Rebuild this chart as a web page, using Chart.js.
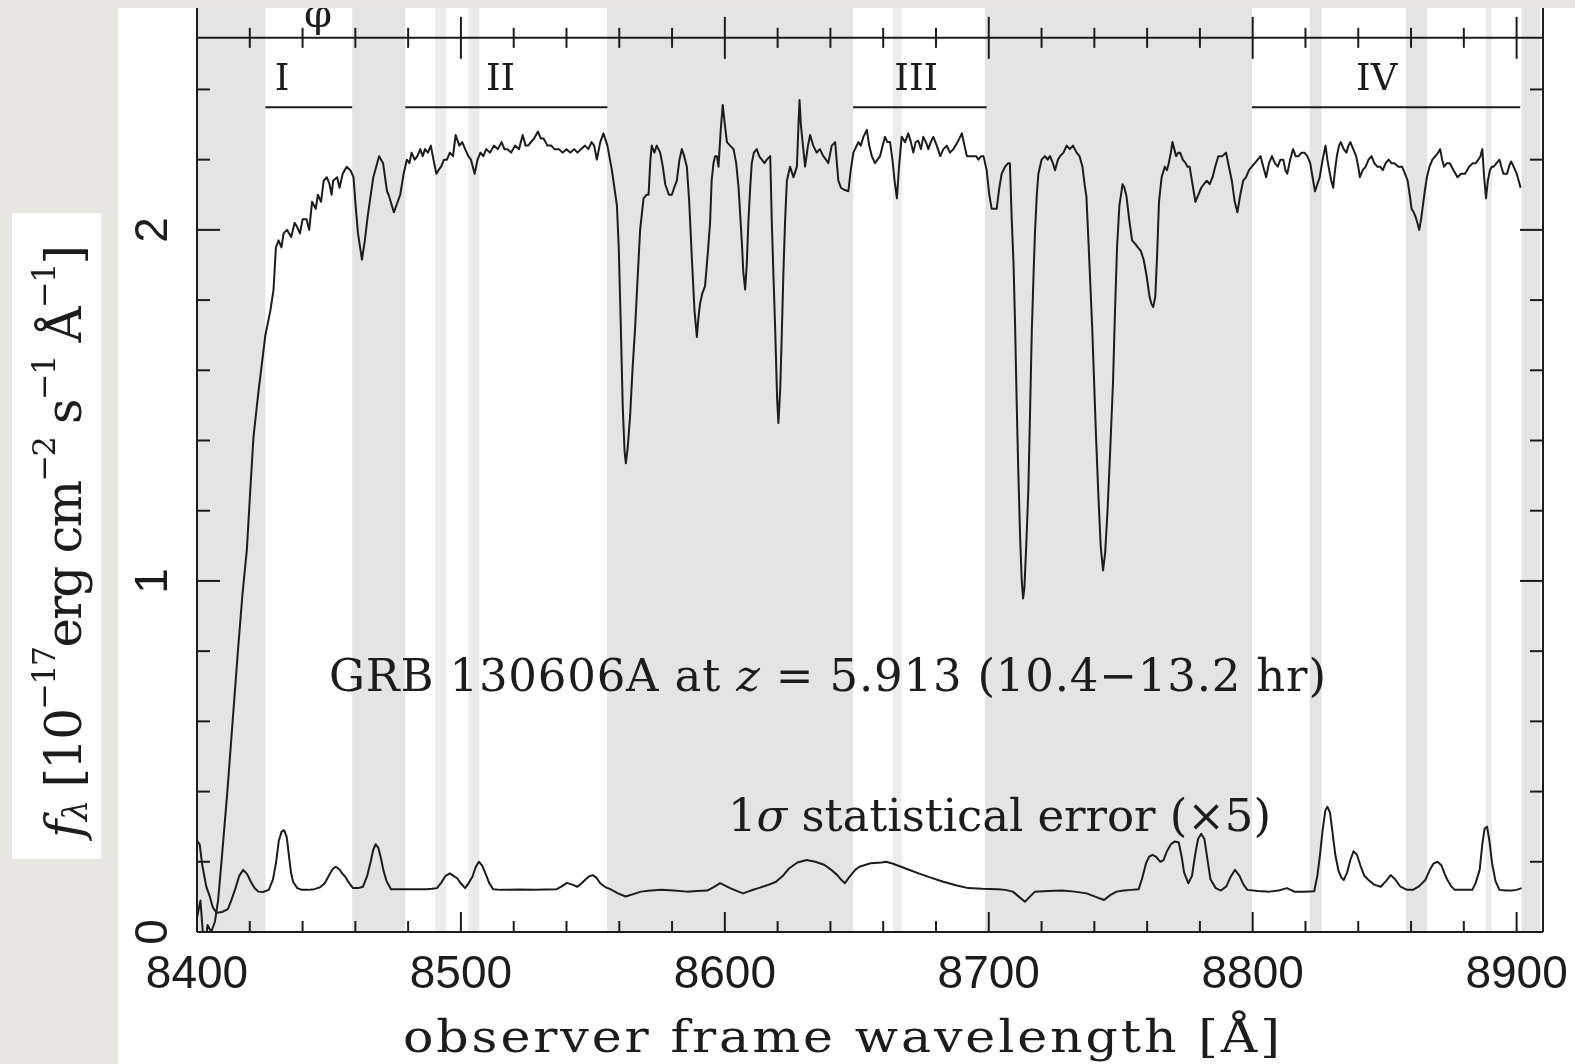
<!DOCTYPE html>
<html>
<head>
<meta charset="utf-8">
<script src="https://cdn.jsdelivr.net/npm/chart.js@4.4.1/dist/chart.umd.min.js"></script>
<style>
  html, body { margin: 0; padding: 0; background: #e9e7e2; }
  canvas { display: block; }
</style>
</head>
<body>
<canvas id="spec" width="1575" height="1064"></canvas>
<script>
/* GRB 130606A afterglow spectrum, observer frame, 8400-8910 A */

// flux, 1e-17 erg/cm2/s/A
const fluxWl = [
  8400.0, 8401.3, 8402.2, 8403.0, 8404.0, 8405.4, 8406.8, 8408.0, 8409.5, 8411.5,
  8413.5, 8415.5, 8417.2, 8418.9, 8420.2, 8421.4, 8423.3, 8425.9, 8427.8, 8429.0,
  8429.9, 8430.9, 8432.0, 8432.8, 8434.1, 8435.7, 8437.0, 8437.8, 8439.0, 8440.0,
  8441.5, 8442.5, 8443.6, 8445.0, 8445.8, 8447.0, 8448.0, 8449.2, 8450.2, 8451.0,
  8451.6, 8453.1, 8454.0, 8455.2, 8456.7, 8458.1, 8459.3, 8460.2, 8461.0, 8462.5,
  8463.6, 8464.7, 8466.8, 8469.0, 8470.5, 8472.0, 8472.6, 8474.6, 8477.0, 8478.3,
  8479.5, 8480.5, 8481.3, 8482.5, 8483.5, 8484.6, 8485.5, 8486.4, 8487.5, 8488.6,
  8489.6, 8490.7, 8491.5, 8492.5, 8493.6, 8494.7, 8495.8, 8497.0, 8498.0, 8499.4,
  8500.5, 8501.6, 8502.8, 8503.8, 8505.2, 8506.3, 8507.4, 8508.5, 8509.6, 8511.0,
  8512.5, 8514.0, 8515.4, 8516.5, 8517.6, 8519.0, 8520.5, 8522.0, 8523.4, 8524.5,
  8525.5, 8526.5, 8527.7, 8529.2, 8530.3, 8531.3, 8532.8, 8534.2, 8535.5, 8537.1,
  8538.5, 8540.0, 8541.5, 8542.9, 8544.2, 8545.5, 8547.0, 8548.3, 8549.5, 8550.5,
  8551.5, 8552.8, 8554.0, 8555.5, 8557.2, 8559.1, 8559.8, 8560.6, 8561.3, 8562.0,
  8562.5, 8563.2, 8564.1, 8565.0, 8566.0, 8567.0, 8567.9, 8569.2, 8570.3, 8571.1,
  8571.8, 8572.3, 8573.3, 8574.2, 8575.5, 8576.5, 8577.4, 8578.8, 8579.9, 8580.8,
  8581.8, 8582.8, 8583.7, 8584.6, 8585.6, 8586.5, 8587.5, 8588.5, 8589.4, 8590.0,
  8590.6, 8591.5, 8592.5, 8593.5, 8594.4, 8595.0, 8595.7, 8596.3, 8597.0, 8597.6,
  8598.4, 8599.2, 8600.0, 8600.8, 8602.0, 8603.3, 8604.3, 8605.2, 8606.4, 8607.0,
  8607.7, 8608.3, 8608.9, 8609.6, 8610.2, 8611.0, 8612.1, 8613.0, 8614.0, 8615.0,
  8615.9, 8617.2, 8617.8, 8618.5, 8619.1, 8619.8, 8620.3, 8621.0, 8621.6, 8622.2,
  8622.8, 8623.5, 8624.7, 8626.0, 8627.3, 8627.9, 8628.3, 8628.8, 8629.2, 8630.4,
  8631.5, 8632.3, 8633.5, 8634.8, 8636.0, 8637.3, 8638.3, 8639.2, 8640.5, 8641.8,
  8643.0, 8644.0, 8645.0, 8646.8, 8647.7, 8648.7, 8650.6, 8651.5, 8652.5, 8653.8,
  8654.7, 8655.7, 8656.9, 8658.8, 8659.8, 8660.7, 8661.6, 8662.6, 8663.5, 8664.3,
  8665.2, 8666.0, 8667.0, 8668.3, 8669.5, 8670.5, 8671.4, 8672.3, 8673.3, 8674.3,
  8675.2, 8676.2, 8677.1, 8678.0, 8679.0, 8680.3, 8681.6, 8682.8, 8684.1, 8685.3,
  8686.6, 8688.2, 8689.8, 8690.8, 8691.7, 8693.0, 8694.2, 8695.2, 8696.1, 8697.1,
  8698.0, 8699.2, 8700.2, 8701.1, 8702.0, 8703.0, 8704.0, 8704.9, 8706.2, 8707.4,
  8708.0, 8708.7, 8709.4, 8710.0, 8710.6, 8711.2, 8711.9, 8712.5, 8713.0, 8713.5,
  8714.2, 8715.0, 8715.7, 8716.3, 8717.0, 8717.5, 8718.2, 8718.8, 8720.0, 8721.3,
  8722.3, 8723.2, 8724.3, 8725.1, 8726.2, 8727.0, 8728.3, 8729.5, 8730.7, 8731.9,
  8733.3, 8734.4, 8735.5, 8736.3, 8737.0, 8737.7, 8738.4, 8739.2, 8739.9, 8740.7,
  8741.5, 8742.4, 8743.3, 8744.1, 8745.0, 8746.0, 8747.1, 8747.8, 8748.6, 8749.5,
  8750.7, 8751.4, 8752.2, 8753.2, 8754.3, 8755.5, 8756.5, 8757.6, 8758.7, 8759.8,
  8760.9, 8761.6, 8762.3, 8763.1, 8763.8, 8764.5, 8765.5, 8766.7, 8767.5, 8768.2,
  8769.0, 8769.6, 8770.3, 8771.0, 8771.8, 8772.5, 8773.5, 8774.6, 8775.3, 8776.1,
  8777.2, 8778.3, 8779.4, 8780.5, 8781.5, 8782.6, 8783.7, 8784.8, 8785.8, 8787.0,
  8788.5, 8789.9, 8791.0, 8792.1, 8793.2, 8794.2, 8795.3, 8796.4, 8797.5, 8798.6,
  8799.7, 8800.8, 8801.9, 8803.0, 8804.0, 8805.1, 8806.2, 8807.3, 8808.4, 8809.5,
  8810.5, 8811.6, 8812.4, 8813.1, 8814.2, 8815.3, 8816.3, 8817.4, 8818.5, 8819.6,
  8820.7, 8821.8, 8822.7, 8823.6, 8824.5, 8825.4, 8826.5, 8827.6, 8828.3, 8829.0,
  8829.8, 8830.5, 8831.2, 8831.9, 8832.7, 8833.4, 8834.5, 8835.5, 8836.3, 8837.0,
  8838.1, 8839.2, 8840.0, 8840.6, 8841.7, 8842.8, 8843.9, 8845.0, 8846.1, 8847.2,
  8848.3, 8849.3, 8850.4, 8851.5, 8852.6, 8853.7, 8855.2, 8856.6, 8857.7, 8858.7,
  8859.5, 8860.2, 8861.0, 8861.6, 8862.4, 8863.1, 8863.8, 8864.5, 8865.2, 8866.0,
  8867.0, 8868.1, 8869.2, 8870.3, 8871.0, 8871.8, 8872.5, 8873.6, 8874.7, 8876.1,
  8877.6, 8879.0, 8880.5, 8882.0, 8883.4, 8884.5, 8885.5, 8886.3, 8887.0, 8887.7,
  8888.4, 8889.1, 8889.9, 8890.6, 8891.3, 8892.4, 8893.5, 8894.2, 8895.0, 8895.7,
  8896.4, 8897.1, 8897.9, 8898.9, 8900.0, 8900.8, 8901.5
];
const fluxVal = [
  0.04, 0.09, 0.00, -0.04, 0.02, 0.00, 0.03, 0.09, 0.22, 0.40,
  0.60, 0.80, 0.96, 1.09, 1.26, 1.41, 1.54, 1.70, 1.77, 1.83,
  1.95, 1.97, 1.95, 1.99, 2.00, 1.98, 2.02, 2.01, 1.99, 2.03,
  2.03, 2.00, 2.08, 2.06, 2.10, 2.08, 2.14, 2.15, 2.13, 2.10,
  2.14, 2.15, 2.12, 2.16, 2.18, 2.17, 2.15, 2.06, 1.99, 1.915,
  1.97, 2.04, 2.15, 2.21, 2.19, 2.11, 2.10, 2.05, 2.10, 2.16,
  2.20, 2.19, 2.22, 2.20, 2.21, 2.23, 2.21, 2.23, 2.22, 2.24,
  2.20, 2.16, 2.17, 2.18, 2.20, 2.20, 2.22, 2.21, 2.27, 2.24,
  2.25, 2.23, 2.21, 2.20, 2.16, 2.20, 2.22, 2.21, 2.23, 2.22,
  2.24, 2.23, 2.25, 2.23, 2.23, 2.22, 2.24, 2.23, 2.27, 2.24,
  2.24, 2.25, 2.26, 2.28, 2.26, 2.26, 2.24, 2.24, 2.23, 2.23,
  2.22, 2.23, 2.22, 2.23, 2.22, 2.23, 2.24, 2.23, 2.25, 2.24,
  2.20, 2.25, 2.275, 2.24, 2.17, 2.07, 1.95, 1.72, 1.50, 1.37,
  1.335, 1.38, 1.47, 1.60, 1.72, 1.87, 2.00, 2.09, 2.10, 2.10,
  2.20, 2.24, 2.22, 2.24, 2.22, 2.18, 2.13, 2.10, 2.10, 2.12,
  2.14, 2.20, 2.23, 2.21, 2.18, 2.08, 1.92, 1.77, 1.695, 1.75,
  1.79, 1.82, 1.84, 1.93, 2.02, 2.14, 2.19, 2.21, 2.21, 2.18,
  2.28, 2.356, 2.30, 2.25, 2.24, 2.23, 2.19, 2.12, 1.97, 1.88,
  1.83, 1.90, 2.02, 2.12, 2.19, 2.22, 2.23, 2.21, 2.20, 2.19,
  2.20, 2.21, 2.02, 1.85, 1.71, 1.52, 1.45, 1.55, 1.71, 1.88,
  2.02, 2.14, 2.18, 2.15, 2.18, 2.30, 2.37, 2.30, 2.27, 2.18,
  2.24, 2.27, 2.24, 2.22, 2.23, 2.21, 2.20, 2.19, 2.24, 2.25,
  2.14, 2.12, 2.115, 2.11, 2.17, 2.22, 2.25, 2.24, 2.265, 2.285,
  2.24, 2.21, 2.19, 2.21, 2.24, 2.265, 2.25, 2.25, 2.20, 2.14,
  2.09, 2.18, 2.265, 2.25, 2.275, 2.25, 2.22, 2.25, 2.254, 2.23,
  2.265, 2.25, 2.23, 2.25, 2.265, 2.24, 2.21, 2.23, 2.24, 2.22,
  2.23, 2.25, 2.275, 2.24, 2.21, 2.21, 2.21, 2.21, 2.20, 2.21,
  2.21, 2.17, 2.10, 2.06, 2.06, 2.06, 2.12, 2.16, 2.18, 2.19,
  2.19, 2.03, 1.90, 1.72, 1.50, 1.31, 1.12, 1.00, 0.95, 0.98,
  1.10, 1.26, 1.50, 1.71, 1.88, 1.99, 2.10, 2.16, 2.20, 2.21,
  2.20, 2.21, 2.19, 2.17, 2.20, 2.21, 2.22, 2.24, 2.23, 2.24,
  2.22, 2.21, 2.18, 2.13, 2.095, 1.98, 1.86, 1.72, 1.57, 1.40,
  1.25, 1.10, 1.03, 1.08, 1.20, 1.37, 1.57, 1.76, 1.95, 2.07,
  2.13, 2.12, 2.095, 2.03, 1.97, 1.96, 1.95, 1.94, 1.915, 1.87,
  1.81, 1.79, 1.78, 1.81, 1.93, 2.08, 2.15, 2.18, 2.17, 2.19,
  2.22, 2.25, 2.23, 2.21, 2.22, 2.22, 2.20, 2.19, 2.18, 2.18,
  2.13, 2.08, 2.10, 2.12, 2.13, 2.14, 2.13, 2.15, 2.18, 2.21,
  2.21, 2.22, 2.18, 2.14, 2.08, 2.05, 2.10, 2.14, 2.15, 2.17,
  2.18, 2.19, 2.20, 2.21, 2.18, 2.15, 2.19, 2.21, 2.19, 2.18,
  2.20, 2.20, 2.17, 2.16, 2.20, 2.23, 2.21, 2.21, 2.22, 2.22,
  2.21, 2.19, 2.15, 2.11, 2.13, 2.15, 2.20, 2.24, 2.20, 2.17,
  2.14, 2.12, 2.17, 2.21, 2.24, 2.25, 2.23, 2.22, 2.24, 2.25,
  2.23, 2.21, 2.18, 2.15, 2.17, 2.18, 2.20, 2.21, 2.19, 2.18,
  2.18, 2.17, 2.19, 2.20, 2.19, 2.19, 2.18, 2.18, 2.16, 2.14,
  2.10, 2.06, 2.05, 2.04, 2.02, 2.00, 2.03, 2.07, 2.11, 2.15,
  2.18, 2.20, 2.21, 2.22, 2.23, 2.20, 2.18, 2.19, 2.19, 2.17,
  2.15, 2.16, 2.16, 2.18, 2.19, 2.19, 2.20, 2.21, 2.23, 2.15,
  2.09, 2.14, 2.17, 2.18, 2.18, 2.19, 2.20, 2.18, 2.16, 2.16,
  2.16, 2.18, 2.195, 2.18, 2.16, 2.14, 2.12
];

// 1 sigma error spectrum, already multiplied by 5
const errWl = [
  8400.0, 8401.0, 8402.0, 8403.5, 8404.9, 8406.0, 8407.4, 8409.5, 8411.7, 8413.0,
  8414.6, 8416.0, 8417.5, 8419.0, 8420.4, 8421.8, 8423.3, 8425.0, 8427.2, 8428.8,
  8430.0, 8431.0, 8432.0, 8433.0, 8434.0, 8434.8, 8435.6, 8436.4, 8438.0, 8439.7,
  8442.0, 8444.5, 8446.5, 8448.4, 8450.3, 8451.5, 8452.6, 8454.0, 8455.0, 8456.1,
  8457.6, 8459.1, 8461.0, 8462.9, 8464.5, 8465.8, 8466.8, 8467.7, 8468.7, 8469.7,
  8470.6, 8471.8, 8473.5, 8476.0, 8479.3, 8483.0, 8487.1, 8489.0, 8490.9, 8492.5,
  8494.2, 8495.8, 8497.2, 8498.6, 8500.0, 8501.6, 8503.0, 8504.4, 8505.6, 8506.8,
  8508.0, 8509.3, 8510.7, 8512.2, 8515.0, 8518.0, 8522.0, 8527.7, 8532.0, 8536.3,
  8538.2, 8540.2, 8542.2, 8544.1, 8545.6, 8547.0, 8548.5, 8549.9, 8551.3, 8552.8,
  8554.7, 8556.6, 8559.5, 8562.4, 8565.3, 8568.2, 8572.0, 8575.9, 8580.7, 8585.6,
  8589.5, 8593.3, 8595.8, 8598.2, 8600.1, 8602.0, 8604.5, 8606.9, 8609.8, 8612.7,
  8616.0, 8619.4, 8622.0, 8624.3, 8627.5, 8631.0, 8634.3, 8637.8, 8640.3, 8642.6,
  8644.2, 8645.5, 8647.3, 8649.4, 8651.0, 8655.2, 8659.4, 8661.0, 8663.5, 8666.0,
  8669.5, 8673.4, 8678.0, 8682.8, 8687.5, 8692.2, 8697.5, 8703.4, 8706.3, 8709.1,
  8711.5, 8713.7, 8715.5, 8717.5, 8722.5, 8727.8, 8732.5, 8737.1, 8740.5, 8743.7,
  8746.0, 8748.4, 8751.2, 8754.0, 8756.8, 8758.2, 8759.6, 8760.8, 8762.0, 8763.3,
  8765.0, 8766.2, 8767.5, 8769.0, 8770.5, 8772.0, 8773.2, 8774.0, 8775.6, 8777.0,
  8778.2, 8779.3, 8780.5, 8781.7, 8783.0, 8784.0, 8786.0, 8788.0, 8790.0, 8791.5,
  8793.3, 8795.0, 8796.5, 8798.0, 8802.0, 8806.4, 8809.8, 8813.0, 8815.8, 8819.5,
  8823.3, 8824.5, 8825.5, 8826.5, 8827.5, 8828.3, 8829.3, 8830.3, 8831.3, 8832.5,
  8833.6, 8834.5, 8835.8, 8837.0, 8838.2, 8839.5, 8840.8, 8842.3, 8843.9, 8846.0,
  8848.5, 8850.5, 8852.3, 8854.0, 8856.0, 8858.5, 8860.7, 8863.0, 8865.4, 8867.0,
  8868.5, 8870.0, 8871.5, 8872.8, 8873.8, 8875.2, 8876.6, 8880.0, 8883.2, 8884.5,
  8886.0, 8887.0, 8887.9, 8888.8, 8889.7, 8890.7, 8892.0, 8893.5, 8896.0, 8898.2,
  8900.0, 8901.9
];
const errVal = [
  0.26, 0.25, 0.19, 0.13, 0.10, 0.07, 0.055, 0.057, 0.065, 0.09,
  0.125, 0.16, 0.177, 0.165, 0.143, 0.125, 0.115, 0.114, 0.12, 0.15,
  0.20, 0.26, 0.285, 0.29, 0.27, 0.22, 0.17, 0.143, 0.125, 0.12,
  0.12, 0.122, 0.127, 0.139, 0.165, 0.18, 0.186, 0.178, 0.167, 0.158,
  0.14, 0.125, 0.125, 0.129, 0.16, 0.20, 0.235, 0.25, 0.24, 0.21,
  0.177, 0.145, 0.122, 0.122, 0.122, 0.122, 0.122, 0.123, 0.125, 0.14,
  0.16, 0.167, 0.16, 0.153, 0.138, 0.125, 0.14, 0.158, 0.185, 0.20,
  0.19, 0.167, 0.14, 0.122, 0.12, 0.12, 0.121, 0.12, 0.121, 0.122,
  0.13, 0.14, 0.135, 0.129, 0.138, 0.148, 0.158, 0.162, 0.155, 0.139,
  0.128, 0.122, 0.11, 0.101, 0.108, 0.115, 0.118, 0.12, 0.118, 0.115,
  0.117, 0.118, 0.128, 0.139, 0.132, 0.125, 0.117, 0.11, 0.118, 0.125,
  0.133, 0.143, 0.16, 0.181, 0.198, 0.205, 0.20, 0.191, 0.177, 0.162,
  0.148, 0.139, 0.158, 0.177, 0.186, 0.196, 0.198, 0.20, 0.195, 0.188,
  0.178, 0.167, 0.155, 0.143, 0.133, 0.125, 0.123, 0.122, 0.12, 0.115,
  0.10, 0.086, 0.10, 0.115, 0.117, 0.118, 0.115, 0.11, 0.10, 0.091,
  0.105, 0.115, 0.118, 0.12, 0.122, 0.155, 0.196, 0.215, 0.22, 0.215,
  0.20, 0.205, 0.23, 0.25, 0.258, 0.255, 0.21, 0.17, 0.139, 0.16,
  0.22, 0.265, 0.28, 0.265, 0.20, 0.15, 0.125, 0.118, 0.13, 0.155,
  0.177, 0.16, 0.135, 0.12, 0.117, 0.115, 0.118, 0.125, 0.115, 0.115,
  0.116, 0.16, 0.22, 0.29, 0.345, 0.357, 0.34, 0.28, 0.22, 0.175,
  0.155, 0.148, 0.17, 0.205, 0.23, 0.22, 0.19, 0.16, 0.148, 0.135,
  0.129, 0.145, 0.162, 0.15, 0.129, 0.12, 0.12, 0.13, 0.148, 0.175,
  0.195, 0.20, 0.19, 0.165, 0.148, 0.13, 0.12, 0.12, 0.12, 0.14,
  0.177, 0.25, 0.295, 0.30, 0.26, 0.196, 0.145, 0.12, 0.118, 0.118,
  0.12, 0.125
];

// sky-line masks (grey) and narrow weak masks (light grey), in A
const skyBands = [[8400, 8425.9], [8458.8, 8478.9], [8555.4, 8648.6], [8698.6, 8799.7],
                  [8821.6, 8826.1], [8858.1, 8866.1], [8901.9, 8909.1]];
const weakBands = [[8490.2, 8494.4], [8502.8, 8507.0], [8663.7, 8667.0], [8888.3, 8890.6]];

// analysed windows
const regionNames = ['I', 'II', 'III', 'IV'];
const regionSpans = [[8425.9, 8458.8], [8478.9, 8555.5], [8648.6, 8699.2], [8799.7, 8901.4]];
const regionLabelWl = [8432.2, 8515.0, 8672.5, 8847.0];

const xTickValues = [8400, 8500, 8600, 8700, 8800, 8900];
const xTickLabels = ['8400', '8500', '8600', '8700', '8800', '8900'];
const yTickValues = [0, 1, 2];
const yTickLabels = ['0', '1', '2'];

const X_MIN = 8400, X_MAX = 8910, Y_MIN = 0, Y_MAX = 2.632;
const FRAME_TOP = 2.547;   // top frame of this panel (the figure is cut above it)
const BAR_LEVEL = 2.349;   // level of the window bars

const INK = '#1c1c1c';
const PAPER = '#e9e7e2';
const SERIF = '"DejaVu Serif", serif';
const SANS = '"Liberation Sans", Arial, sans-serif';

function toXY(xs, ys) { return xs.map((x, i) => ({ x: x, y: ys[i] })); }

// draw text char by char so the run fills a given width (sx widens each glyph)
function fitRun(ctx, segs, cx, y, width, sx) {
  sx = sx || 1;
  let w = 0, n = 0;
  segs.forEach(s => { ctx.font = s.font; for (const ch of s.t) { w += ctx.measureText(ch).width * sx; n++; } });
  const extra = n > 1 ? (width - w) / (n - 1) : 0;
  let x = cx - width / 2;
  ctx.textAlign = 'left';
  ctx.textBaseline = 'alphabetic';
  segs.forEach(s => {
    ctx.font = s.font;
    for (const ch of s.t) {
      ctx.save();
      ctx.translate(x, y + (s.dy || 0));
      ctx.scale(sx, 1);
      ctx.fillText(ch, 0, 0);
      ctx.restore();
      x += ctx.measureText(ch).width * sx + extra;
    }
  });
}

const decor = {
  id: 'decor',
  beforeDraw(chart) {
    const { ctx, chartArea: a, scales: { x } } = chart;
    ctx.save();
    ctx.fillStyle = PAPER;
    ctx.fillRect(0, 0, chart.width, chart.height);
    ctx.fillStyle = '#ffffff';
    ctx.fillRect(118, 8, chart.width - 118, chart.height - 8);
    ctx.fillRect(12, 213, 89, 646);

    const band = (b, col) => {
      const x0 = x.getPixelForValue(b[0]), x1 = x.getPixelForValue(b[1]);
      ctx.fillStyle = col;
      ctx.fillRect(x0, a.top, x1 - x0, a.bottom - a.top);
    };
    skyBands.forEach(b => band(b, '#e4e4e4'));
    weakBands.forEach(b => band(b, '#ececec'));
    ctx.restore();
  },
  afterDraw(chart) {
    const { ctx, chartArea: a, scales: { x, y } } = chart;
    const px = v => x.getPixelForValue(v);
    const py = v => y.getPixelForValue(v);
    ctx.save();
    ctx.strokeStyle = INK;
    ctx.fillStyle = INK;
    ctx.lineWidth = 2;
    ctx.lineCap = 'butt';

    const line = (x0, y0, x1, y1) => { ctx.beginPath(); ctx.moveTo(x0, y0); ctx.lineTo(x1, y1); ctx.stroke(); };

    // frame
    const yTop = py(FRAME_TOP);
    line(a.left, a.top, a.left, a.bottom);
    line(a.right, a.top, a.right, a.bottom);
    line(a.left, a.bottom, a.right, a.bottom);
    line(a.left, yTop, a.right, yTop);

    // x ticks every 20 A, major every 100 A
    for (let v = X_MIN + 20; v <= 8900; v += 20) {
      const major = v % 100 === 0;
      const xx = px(v);
      line(xx, a.bottom, xx, a.bottom - (major ? 20 : 11));
      const h = major ? 21 : 10;
      line(xx, yTop - h, xx, yTop + h);
    }
    // y ticks every 0.2, major every 1
    for (let k = 1; k <= 12; k++) {
      const v = k * 0.2;
      const major = k % 5 === 0;
      const yy = py(v);
      const len = major ? 23 : 13;
      line(a.left, yy, a.left + len, yy);
      line(a.right, yy, a.right - len, yy);
    }

    // tick labels
    ctx.font = '46px ' + SANS;
    ctx.textAlign = 'center';
    ctx.textBaseline = 'alphabetic';
    xTickValues.forEach((v, i) => ctx.fillText(xTickLabels[i], px(v), 988));
    yTickValues.forEach((v, i) => {
      ctx.save();
      ctx.translate(167, py(v));
      ctx.rotate(-Math.PI / 2);
      ctx.fillText(yTickLabels[i], 0, 0);
      ctx.restore();
    });

    // analysed windows
    regionSpans.forEach(s => line(px(s[0]), py(BAR_LEVEL), px(s[1]), py(BAR_LEVEL)));
    ctx.font = '37px ' + SERIF;
    ctx.textAlign = 'center';
    regionNames.forEach((t, i) => ctx.fillText(t, px(regionLabelWl[i]), 90));

    // annotations
    const F45 = '45px ' + SERIF, I45 = 'italic 45px ' + SERIF;
    fitRun(ctx, [{ t: 'GRB 130606A at ', font: F45 }, { t: 'z', font: I45 },
                 { t: ' = 5.913 (10.4\u221213.2 hr)', font: F45 }], 827.5, 691, 997);
    fitRun(ctx, [{ t: '1', font: F45 }, { t: '\u03c3', font: I45 },
                 { t: ' statistical error (\u00d75)', font: F45 }], 999.5, 831, 543);

    // axis titles
    fitRun(ctx, [{ t: 'observer frame wavelength [\u00c5]', font: '44px ' + SERIF }], 841.5, 1052, 877, 1.15);

    ctx.save();
    ctx.translate(81, 541.5);
    ctx.rotate(-Math.PI / 2);
    const M = '50px ' + SERIF, S = '32px ' + SERIF;
    fitRun(ctx, [
      { t: 'f', font: 'italic ' + M }, { t: '\u03bb', font: 'italic 34px ' + SERIF, dy: 6 },
      { t: ' [10', font: M }, { t: '\u221217', font: S, dy: -26 },
      { t: 'erg cm', font: M }, { t: '\u22122', font: S, dy: -26 },
      { t: ' s', font: M }, { t: '\u22121', font: S, dy: -26 },
      { t: ' \u00c5', font: M }, { t: '\u22121', font: S, dy: -26 },
      { t: ']', font: M }
    ], 0, 0, 593);
    ctx.restore();

    // glyph left over from the panel above
    ctx.font = '40px ' + SERIF;
    ctx.textAlign = 'center';
    ctx.fillText('\u03c6', 318, 27);

    // the scan is cut at the top
    ctx.fillStyle = PAPER;
    ctx.fillRect(0, 0, chart.width, 8);
    ctx.restore();
  }
};

new Chart(document.getElementById('spec').getContext('2d'), {
  type: 'line',
  data: {
    datasets: [
      { label: 'flux', data: toXY(fluxWl, fluxVal) },
      { label: 'error x5', data: toXY(errWl, errVal) }
    ]
  },
  options: {
    responsive: false,
    animation: false,
    devicePixelRatio: 1,
    parsing: false,
    layout: { padding: { left: 197, right: 32, top: 8, bottom: 132 } },
    elements: {
      line: { borderColor: INK, borderWidth: 2, tension: 0, borderJoinStyle: 'round', fill: false },
      point: { radius: 0, hoverRadius: 0 }
    },
    plugins: { legend: { display: false }, tooltip: { enabled: false } },
    scales: {
      x: { type: 'linear', min: X_MIN, max: X_MAX, display: false },
      y: { type: 'linear', min: Y_MIN, max: Y_MAX, display: false }
    }
  },
  plugins: [decor]
});
</script>
</body>
</html>
